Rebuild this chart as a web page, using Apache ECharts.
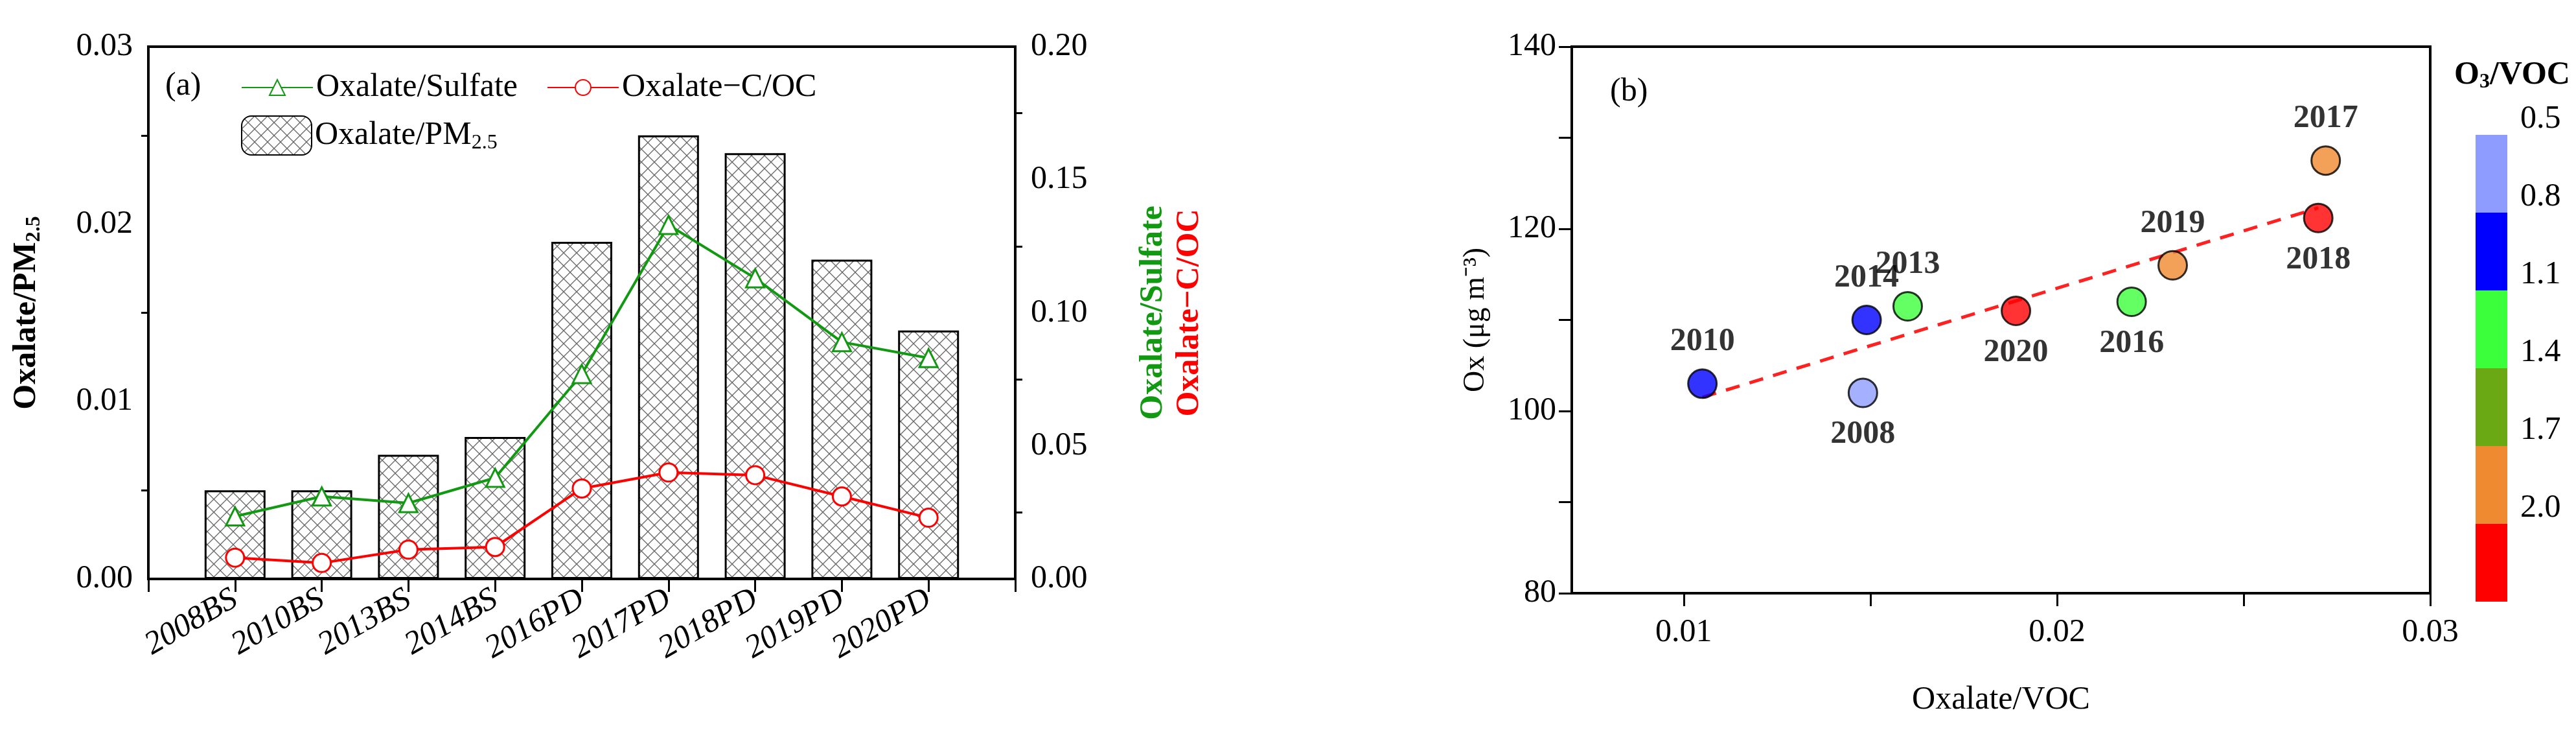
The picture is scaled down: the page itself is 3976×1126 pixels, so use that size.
<!DOCTYPE html>
<html><head><meta charset="utf-8">
<script src="https://cdn.jsdelivr.net/npm/echarts@6/dist/echarts.min.js"></script>
<style>html,body{margin:0;background:#fff}#c{width:3976px;height:1126px}</style></head>
<body><div id="c"></div>
<script>
const categories = ['2008BS','2010BS','2013BS','2014BS','2016PD','2017PD','2018PD','2019PD','2020PD'];
const oxalatePM = [0.005,0.005,0.007,0.008,0.019,0.025,0.024,0.018,0.014];
const oxalateSulfate = [0.0235,0.031,0.0285,0.038,0.077,0.133,0.113,0.089,0.083];
const oxalateCOC = [0.008,0.006,0.011,0.012,0.034,0.040,0.039,0.031,0.023];
const years = ['2010','2008','2014','2013','2020','2016','2019','2018','2017'];
const oxVOC = [0.0105,0.0148,0.0149,0.0160,0.0189,0.0220,0.0231,0.0270,0.0272];
const ox = [103,102,110,111.5,111,112,116,121.2,127.5];
const o3VOC = [0.95,0.65,0.95,1.25,2.15,1.25,1.85,2.15,1.85];
const labelBelow = ['2008','2020','2016','2018'];
const trendX = [0.0105,0.027];
const trendY = [101.5,122.3];
const xTicksB = [0.01,0.015,0.02,0.025,0.03];
const xLabelsB = [0.01,0.02,0.03];
const cbBounds = [0.5,0.8,1.1,1.4,1.7,2.0,2.3];
const cbColors = ['#8f9cff','#0000ff','#3cff3c','#6aa814','#f08a30','#ff0000'];

const F = 'Liberation Serif';
const FS = 50;
const cv = document.createElement('canvas'); cv.width = 20; cv.height = 20;
const g = cv.getContext('2d'); g.fillStyle = '#fff'; g.fillRect(0,0,20,20);
g.strokeStyle = '#666'; g.lineWidth = 1.3;
g.beginPath();
for (let k=-20;k<=40;k+=20){ g.moveTo(k,0); g.lineTo(k+20,20); g.moveTo(k+20,0); g.lineTo(k,20); }
g.stroke();
const hatch = {image: cv, repeat: 'repeat'};

const pad = a => ['', ...a, ''];
const axisLine = {show:true, lineStyle:{color:'#000', width:4}};
const tick = {length:20, lineStyle:{width:3,color:'#000'}};
const ax = {fontFamily:F, fontSize:FS, color:'#000'};

const chart = echarts.init(document.getElementById('c'));
const pieces = cbColors.map((c,i)=>({gte:cbBounds[i], lt:cbBounds[i+1], color:c}));
chart.setOption({
  animation:false,
  textStyle:{fontFamily:F},
  title:[
    {text:'(a)', left:250, top:103, textStyle:{fontFamily:F,fontSize:FS,fontWeight:'normal',color:'#000'}},
    {text:'(b)', left:2480, top:112, textStyle:{fontFamily:F,fontSize:FS,fontWeight:'normal',color:'#000'}},
    {text:'{a|O}{s|3}{a|/VOC}', left:3783, top:84, textStyle:{rich:{a:{fontFamily:F,fontSize:FS,color:'#000'},s:{fontFamily:F,fontSize:32,color:'#000',padding:[22,0,0,0]}}}}
  ],
  legend:[
    {data:['Oxalate/Sulfate','Oxalate\u2212C/OC'], left:367, top:105, itemWidth:110, itemHeight:30, itemGap:45,
     textStyle:{fontFamily:F,fontSize:FS,color:'#000'}},
    {data:['Oxalate/PM2.5'], left:367, top:173, itemWidth:108, itemHeight:60,
     formatter:()=> '{a|Oxalate/PM}{s|2.5}',
     textStyle:{rich:{a:{fontFamily:F,fontSize:FS,color:'#000'},s:{fontFamily:F,fontSize:32,color:'#000',padding:[24,0,0,0]}}}}
  ],
  grid:[
    {left:229, right:2409, top:72, bottom:233, show:true, borderColor:'#000', borderWidth:4},
    {left:2426, right:225, top:72, bottom:211, show:true, borderColor:'#000', borderWidth:4}
  ],
  xAxis:[
    {gridIndex:0, type:'category', data:pad(categories), boundaryGap:false, axisLine,
     axisTick:{show:true, inside:false, ...tick},
     axisLabel:{...ax, fontStyle:'italic', rotate:30, interval:0, margin:28}, splitLine:{show:false}},
    {gridIndex:1, type:'value', min:0.007, max:0.03, axisLine,
     axisTick:{...tick, customValues:xTicksB},
     axisLabel:{...ax, margin:36, customValues:xLabelsB, formatter:v=>v.toFixed(2)},
     splitLine:{show:false}, name:'Oxalate/VOC', nameLocation:'middle', nameGap:140,
     nameTextStyle:{fontFamily:F,fontSize:FS,color:'#000'}}
  ],
  yAxis:[
    {gridIndex:0, type:'value', min:0, max:0.03, interval:0.01, axisLine,
     axisTick:tick, minorTick:{show:true, splitNumber:2, length:11, lineStyle:{color:'#000',width:3}},
     axisLabel:{...ax, margin:24, formatter:v=>v.toFixed(2)}, splitLine:{show:false},
     name:'{a|Oxalate/PM}{s|2.5}', nameLocation:'middle', nameGap:160,
     nameTextStyle:{rich:{a:{fontFamily:F,fontSize:FS,fontWeight:'bold',color:'#000'},s:{fontFamily:F,fontSize:32,fontWeight:'bold',color:'#000',padding:[24,0,0,0]}}}},
    {gridIndex:0, type:'value', min:0, max:0.2, interval:0.05, position:'right', axisLine,
     axisTick:tick, minorTick:{show:true, splitNumber:2, length:11, lineStyle:{color:'#000',width:3}},
     axisLabel:{...ax, margin:24, formatter:v=>v.toFixed(2)}, splitLine:{show:false},
     name:'{g|Oxalate/Sulfate}\n{r|Oxalate\u2212C/OC}', nameLocation:'middle', nameGap:185, nameRotate:90,
     nameTextStyle:{rich:{g:{fontFamily:F,fontSize:FS,fontWeight:'bold',color:'#119911',lineHeight:56},r:{fontFamily:F,fontSize:FS,fontWeight:'bold',color:'#ff0000',lineHeight:56}}}},
    {gridIndex:1, type:'value', min:80, max:140, interval:10, axisLine,
     axisTick:tick,
     axisLabel:{...ax, margin:24, formatter:v=> v%20===0? String(v):''}, splitLine:{show:false},
     name:'Ox (\u03bcg m\u207b\u00b3)', nameLocation:'middle', nameGap:125,
     nameTextStyle:{fontFamily:F,fontSize:FS-4,color:'#000'}}
  ],
  visualMap:{type:'piecewise', seriesIndex:3, dimension:2, pieces, inverse:true,
    orient:'vertical', left:3806, top:193, itemWidth:49, itemHeight:120, itemGap:0, itemSymbol:'rect',
    showLabel:false, selectedMode:false},
  graphic: cbBounds.slice(0,6).map((b,i)=>({type:'text', left:3890, top:193+i*120-34,
     style:{text:b.toFixed(1), font:FS+'px "Liberation Serif"', fill:'#000'}})),
  series:[
    {name:'Oxalate/PM2.5', type:'bar', xAxisIndex:0, yAxisIndex:0, data:pad(oxalatePM), barWidth:94,
     itemStyle:{color:hatch, borderColor:'#000', borderWidth:3}},
    {name:'Oxalate/Sulfate', type:'line', xAxisIndex:0, yAxisIndex:1, data:pad(oxalateSulfate),
     symbol:'triangle', symbolSize:28, lineStyle:{color:'#119911',width:4},
     itemStyle:{color:'#fff', borderColor:'#119911', borderWidth:3}},
    {name:'Oxalate\u2212C/OC', type:'line', xAxisIndex:0, yAxisIndex:1, data:pad(oxalateCOC),
     symbol:'circle', symbolSize:28, lineStyle:{color:'#ff0000',width:4},
     itemStyle:{color:'#fff', borderColor:'#ff0000', borderWidth:3}},
    {type:'scatter', xAxisIndex:1, yAxisIndex:2, symbolSize:44, z:5,
     itemStyle:{borderColor:'#000', borderWidth:3},
     data: years.map((y,i)=>({value:[oxVOC[i], ox[i], o3VOC[i]], name:y,
       label:{show:true, position: labelBelow.includes(y)?'bottom':'top', distance:16,
         formatter:y, fontFamily:F, fontSize:FS, fontWeight:'bold', color:'#000'}}))},
    {type:'line', xAxisIndex:1, yAxisIndex:2, data: trendX.map((x,i)=>[x,trendY[i]]), symbol:'none',
     lineStyle:{color:'#ff2020', width:5, type:[22,16]}, z:3}
  ]
});
</script></body></html>
